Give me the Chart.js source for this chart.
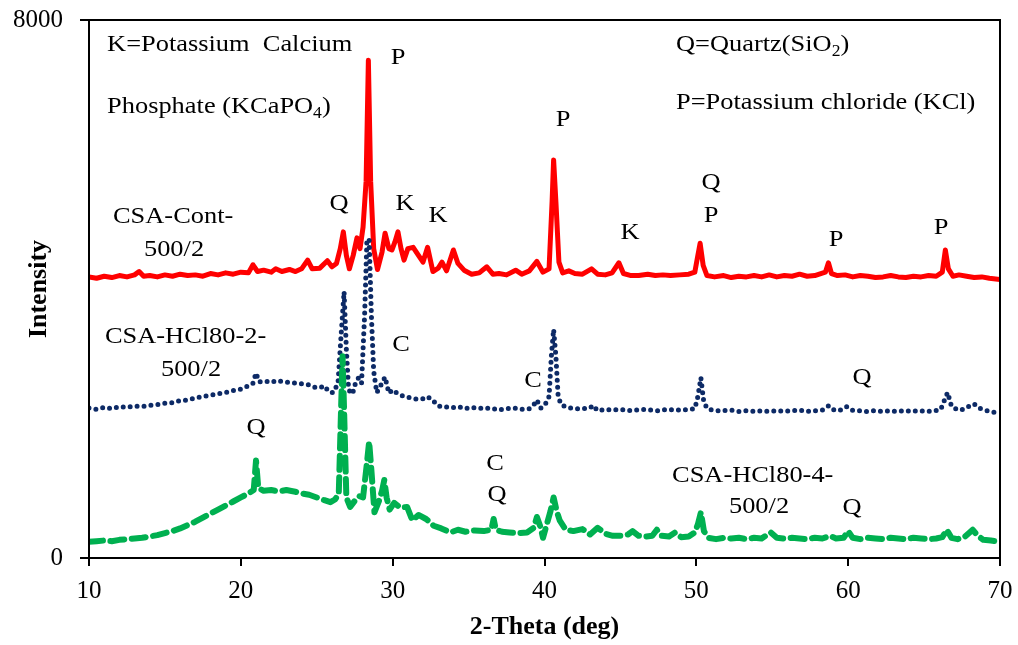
<!DOCTYPE html>
<html>
<head>
<meta charset="utf-8">
<script src="https://cdn.jsdelivr.net/npm/chart.js@4/dist/chart.umd.min.js"></script>
<style>
  html, body { margin: 0; padding: 0; background: #fff; }
  #wrap { width: 1018px; height: 645px; }
</style>
</head>
<body>
<div id="wrap"><canvas id="c" width="1018" height="645"></canvas></div>
<script>
// ---------- data ----------
const redTheta = [10.0,10.5,11.0,11.5,12.0,12.5,13.0,13.3,13.6,14.0,14.5,15.0,15.5,16.0,16.5,17.0,17.5,18.0,18.5,19.0,19.5,20.0,20.5,20.8,21.1,21.5,22.0,22.3,22.7,23.2,23.6,24.0,24.4,24.7,25.2,25.7,26.0,26.3,26.55,26.75,26.95,27.15,27.4,27.65,27.85,28.05,28.25,28.4,28.55,28.75,29.0,29.3,29.5,29.75,29.95,30.15,30.35,30.55,30.75,31.0,31.35,31.7,32.0,32.3,32.65,33.0,33.25,33.55,34.0,34.3,34.7,35.2,35.7,36.2,36.6,37.0,37.5,38.1,38.5,39.0,39.5,39.9,40.3,40.5,40.6,40.75,40.95,41.2,41.6,42.0,42.5,43.1,43.5,44.0,44.45,44.9,45.2,45.7,46.2,46.8,47.3,47.8,48.3,48.9,49.5,49.9,50.1,50.25,50.45,50.7,51.2,51.8,52.3,52.8,53.3,53.8,54.3,54.8,55.3,55.8,56.3,56.8,57.3,57.8,58.2,58.5,58.7,58.9,59.3,59.8,60.3,60.8,61.3,61.8,62.3,62.8,63.3,63.8,64.3,64.8,65.3,65.8,66.2,66.4,66.6,66.9,67.3,67.8,68.3,68.8,69.3,70.0];
const redInt = [4180,4160,4190,4170,4200,4180,4210,4260,4190,4200,4180,4210,4190,4220,4200,4210,4190,4230,4210,4240,4220,4250,4240,4360,4260,4280,4250,4300,4260,4290,4260,4300,4430,4300,4310,4420,4330,4380,4600,4850,4500,4300,4500,4760,4600,4920,5600,7400,5600,4600,4290,4550,4830,4600,4580,4700,4850,4600,4430,4600,4620,4500,4400,4620,4260,4310,4400,4270,4580,4380,4280,4220,4240,4330,4220,4230,4210,4280,4220,4270,4410,4250,4300,5300,5920,5300,4400,4240,4270,4230,4220,4300,4220,4210,4240,4390,4230,4200,4200,4220,4200,4210,4200,4210,4220,4250,4500,4680,4350,4200,4180,4200,4170,4190,4180,4200,4180,4210,4180,4200,4190,4220,4190,4200,4230,4250,4390,4230,4200,4210,4180,4200,4190,4170,4180,4200,4180,4170,4190,4180,4200,4190,4250,4580,4300,4190,4210,4190,4170,4180,4160,4140];

const navyTheta = [10.0,10.5,11.0,11.5,12.0,12.5,13.0,13.5,14.0,14.5,15.0,15.5,16.0,16.5,17.0,17.5,18.0,18.5,19.0,19.5,20.0,20.5,20.8,21.0,21.2,21.6,22.0,22.4,22.8,23.2,23.6,24.0,24.4,24.8,25.2,25.5,25.8,26.1,26.4,26.6,26.8,26.95,27.1,27.35,27.55,27.75,27.95,28.15,28.3,28.45,28.6,28.75,28.95,29.2,29.5,29.75,30.0,30.4,30.8,31.2,31.6,32.0,32.3,32.7,33.0,33.4,33.8,34.2,34.6,35.0,35.5,36.0,36.5,37.0,37.5,38.0,38.5,39.0,39.3,39.5,39.75,40.0,40.3,40.45,40.6,40.75,40.9,41.1,41.5,42.0,42.5,43.0,43.2,43.5,44.0,44.5,45.0,45.5,46.0,46.5,47.0,47.5,48.0,48.5,49.0,49.5,49.9,50.1,50.3,50.5,50.8,51.3,51.8,52.3,52.8,53.3,53.8,54.3,54.8,55.3,55.8,56.3,56.8,57.3,57.8,58.3,58.7,58.9,59.4,59.9,60.2,60.7,61.2,61.7,62.2,62.7,63.2,63.7,64.2,64.7,65.2,65.7,66.1,66.4,66.55,66.8,67.2,67.6,68.0,68.3,68.6,69.0,69.5,70.0];
const navyInt = [2230,2210,2240,2220,2250,2240,2260,2250,2270,2280,2300,2310,2340,2350,2380,2400,2420,2440,2460,2490,2510,2560,2600,2750,2620,2630,2610,2640,2620,2610,2600,2590,2580,2540,2530,2560,2470,2460,2600,3300,3960,3100,2500,2440,2600,2680,2600,3600,4700,4750,3600,2780,2460,2560,2690,2450,2500,2430,2400,2380,2360,2370,2400,2330,2260,2240,2250,2230,2250,2220,2240,2220,2230,2200,2220,2230,2210,2220,2280,2350,2230,2260,2400,3000,3400,3000,2400,2280,2240,2220,2220,2230,2270,2190,2210,2200,2210,2190,2200,2210,2200,2190,2210,2200,2200,2210,2220,2400,2680,2300,2210,2190,2190,2200,2180,2190,2180,2190,2180,2190,2180,2190,2200,2180,2190,2200,2260,2210,2190,2250,2200,2190,2180,2190,2180,2190,2180,2190,2180,2190,2180,2190,2210,2380,2460,2260,2200,2210,2260,2290,2230,2200,2170,2160];

const greenTheta = [10.0,10.5,11.0,11.5,12.0,12.5,13.0,13.5,14.0,14.5,15.0,15.5,16.0,16.5,17.0,17.5,18.0,18.5,19.0,19.5,20.0,20.5,20.85,21.0,21.15,21.5,22.0,22.5,23.0,23.5,24.0,24.5,25.0,25.5,25.9,26.2,26.45,26.6,26.7,26.8,26.95,27.2,27.5,27.8,28.05,28.3,28.45,28.6,28.8,29.1,29.3,29.45,29.6,29.8,30.1,30.5,30.95,31.3,31.7,32.2,32.7,33.2,33.8,34.3,34.8,35.4,36.0,36.5,36.65,36.8,37.2,37.7,38.3,38.85,39.3,39.5,39.75,39.9,40.15,40.4,40.6,40.8,41.0,41.4,41.9,42.5,43.0,43.5,44.0,44.5,45.0,45.5,45.8,46.2,46.7,47.1,47.4,47.7,48.2,48.6,49.0,49.5,49.9,50.1,50.3,50.5,50.8,51.3,51.8,52.3,52.8,53.3,53.8,54.3,54.9,55.3,55.8,56.3,56.8,57.3,57.8,58.3,58.8,59.2,59.7,60.0,60.3,60.8,61.3,61.8,62.3,62.8,63.3,63.8,64.3,64.8,65.3,65.8,66.2,66.5,66.8,67.2,67.7,68.0,68.2,68.5,68.9,69.4,70.0];
const greenInt = [240,250,260,250,270,280,290,300,320,340,370,400,440,490,540,600,660,720,780,840,900,960,1010,1450,1040,1000,1010,990,1010,990,960,940,900,860,830,870,950,2200,3000,2200,900,760,850,920,900,1400,1730,1300,680,850,1000,1160,900,720,820,750,760,560,640,580,480,440,380,420,390,410,400,420,580,420,390,380,370,380,450,610,450,300,500,700,900,700,560,420,400,430,350,450,360,330,330,350,400,330,320,330,420,330,320,380,310,320,380,500,680,400,300,280,300,290,300,280,300,290,380,300,290,300,290,280,300,290,330,290,300,400,300,280,300,290,280,300,290,280,300,290,280,290,310,420,300,280,320,380,420,340,270,260,240];

const xTicks = [10,20,30,40,50,60,70];
const yTicks = [0,8000];

// annotation labels (data coordinates)
const labelText = ['P','P','Q','K','K','Q','P','K','P','P','C','C','Q','Q','C','Q','Q'];
const labelTheta = [30.35,41.22,26.47,30.81,32.99,50.97,50.97,45.63,59.2,66.12,30.55,39.24,60.91,21.0,36.74,36.87,60.25];
const labelInt = [7435,6513,5264,5264,5086,5576,5086,4833,4729,4907,3167,2632,2677,1933,1398,937,744];

const sampleLines = [['CSA-Cont-','500/2'],['CSA-HCl80-2-','500/2'],['CSA-HCl80-4-','500/2']];
const sampleTheta1 = [11.58, 11.05, 48.4];
const sampleInt1 = [5071, 3286, 1219];
const sampleTheta2 = [15.6, 16.72, 54.13];
const sampleInt2 = [4580, 2796, 758];

// ---------- chart ----------
const toXY = (xs, ys) => xs.map((x, i) => ({x: x, y: ys[i]}));
const SERIF = '"Liberation Serif", "Times New Roman", serif';
const STRETCH = 1.1;

// draws text (with optional subscripts), horizontally stretched like the source figure
function drawRich(ctx, parts, x, y, size, align) {
  ctx.save();
  let total = 0;
  parts.forEach(p => {
    ctx.font = (p.sub ? Math.round(size * 0.65) : size) + 'px ' + SERIF;
    total += ctx.measureText(p.t).width;
  });
  ctx.translate(x, y);
  ctx.scale(STRETCH, 1);
  let cx = align === 'center' ? -total / 2 : 0;
  ctx.textAlign = 'left';
  parts.forEach(p => {
    ctx.font = (p.sub ? Math.round(size * 0.65) : size) + 'px ' + SERIF;
    ctx.fillText(p.t, cx, p.sub ? size * 0.28 : 0);
    cx += ctx.measureText(p.t).width;
  });
  ctx.restore();
}

const annotPlugin = {
  id: 'annot',
  afterDraw(chart) {
    const ctx = chart.ctx;
    const xs = chart.scales.x, ys = chart.scales.y;
    const a = chart.chartArea;
    ctx.save();
    // frame
    ctx.strokeStyle = '#000';
    ctx.lineWidth = 2;
    ctx.strokeRect(a.left, a.top, a.right - a.left, a.bottom - a.top);
    ctx.fillStyle = '#000';
    ctx.textBaseline = 'middle';
    const fs = 24;
    const X = v => xs.getPixelForValue(v), Y = v => ys.getPixelForValue(v);
    drawRich(ctx, [{t:'K=Potassium  Calcium'}], X(11.19), Y(7628), fs, 'left');
    drawRich(ctx, [{t:'Phosphate (KCaPO'},{t:'4',sub:true},{t:')'}], X(11.19), Y(6706), fs, 'left');
    drawRich(ctx, [{t:'Q=Quartz(SiO'},{t:'2',sub:true},{t:')'}], X(48.66), Y(7628), fs, 'left');
    drawRich(ctx, [{t:'P=Potassium chloride (KCl)'}], X(48.66), Y(6766), fs, 'left');
    labelText.forEach((t, i) => drawRich(ctx, [{t: t}], X(labelTheta[i]), Y(labelInt[i]), fs, 'center'));
    sampleLines.forEach((ln, i) => {
      drawRich(ctx, [{t: ln[0]}], X(sampleTheta1[i]), Y(sampleInt1[i]), fs, 'left');
      drawRich(ctx, [{t: ln[1]}], X(sampleTheta2[i]), Y(sampleInt2[i]), fs, 'center');
    });
    ctx.restore();
  }
};

new Chart(document.getElementById('c'), {
  type: 'line',
  data: {
    datasets: [
      { label: 'CSA-Cont-500/2', data: toXY(redTheta, redInt), borderColor: '#ff0000', borderWidth: 5,
        pointRadius: 0, tension: 0, order: 2, borderJoinStyle: 'round', borderCapStyle: 'round' },
      { label: 'CSA-HCl80-2-500/2', data: toXY(navyTheta, navyInt), borderColor: '#0d2a66', borderWidth: 5,
        borderDash: [0, 7], borderCapStyle: 'round', pointRadius: 0, tension: 0, order: 1 },
      { label: 'CSA-HCl80-4-500/2', data: toXY(greenTheta, greenInt), borderColor: '#00b050', borderWidth: 6,
        borderDash: [14, 7.5], borderCapStyle: 'round', borderJoinStyle: 'round', pointRadius: 0, tension: 0, order: 0 }
    ]
  },
  options: {
    responsive: false,
    animation: false,
    devicePixelRatio: 1,
    layout: { padding: { top: 20, right: 18, bottom: 0, left: 0 } },
    plugins: { legend: { display: false }, tooltip: { enabled: false } },
    scales: {
      x: {
        type: 'linear', min: 10, max: 70,
        afterBuildTicks: s => { s.ticks = xTicks.map(v => ({value: v})); },
        afterFit: s => { s.height = 87; s.paddingLeft = 0; s.paddingRight = 0; },
        grid: { drawOnChartArea: false, tickLength: 8, color: '#000', lineWidth: 2 },
        border: { color: '#000', width: 2 },
        ticks: { color: '#000', padding: 10, font: { family: SERIF, size: 25 }, maxRotation: 0,
                 callback: v => String(v) },
        title: { display: true, text: '2-Theta (deg)', color: '#000', padding: { top: 0, bottom: 2 },
                 font: { family: SERIF, size: 26, weight: 'bold' } }
      },
      y: {
        type: 'linear', min: 0, max: 8000,
        afterBuildTicks: s => { s.ticks = yTicks.map(v => ({value: v})); },
        afterFit: s => { s.width = 89; s.paddingTop = 0; s.paddingBottom = 0; },
        grid: { drawOnChartArea: false, tickLength: 9, color: '#000', lineWidth: 2 },
        border: { color: '#000', width: 2 },
        ticks: { color: '#000', padding: 17, font: { family: SERIF, size: 25 }, callback: v => String(v) },
        title: { display: true, text: 'Intensity', color: '#000', padding: { top: 24, bottom: 0 },
                 font: { family: SERIF, size: 26, weight: 'bold' } }
      }
    }
  },
  plugins: [annotPlugin]
});
</script>
</body>
</html>
